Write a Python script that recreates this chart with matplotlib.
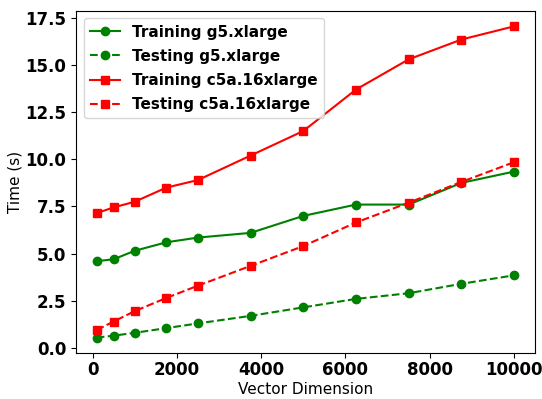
import numpy as np
import matplotlib.pyplot as plt

# Data
dims = [100, 500, 1000, 1750, 2500, 3750, 5000, 6250, 7500, 8750, 10000]
train_g5 = [4.6, 4.7, 5.15, 5.6, 5.85, 6.1, 7.0, 7.6, 7.6, 8.75, 9.35]
test_g5 = [0.55, 0.65, 0.8, 1.05, 1.3, 1.7, 2.15, 2.6, 2.9, 3.4, 3.85]
train_c5a = [7.15, 7.45, 7.75, 8.5, 8.9, 10.2, 11.5, 13.7, 15.3, 16.35, 17.05]
test_c5a = [0.95, 1.4, 1.95, 2.65, 3.3, 4.35, 5.4, 6.65, 7.7, 8.8, 9.85]

fig = plt.figure(figsize=(5.42, 3.99), dpi=100)
ax = fig.add_axes([0.140, 0.115, 0.847, 0.858])

ax.plot(dims, train_g5, '-o', color='green', label='Training g5.xlarge')
ax.plot(dims, test_g5, '--o', color='green', label='Testing g5.xlarge')
ax.plot(dims, train_c5a, '-s', color='red', label='Training c5a.16xlarge')
ax.plot(dims, test_c5a, '--s', color='red', label='Testing c5a.16xlarge')

ax.set_xlabel('Vector Dimension', fontsize=11, labelpad=2)
ax.set_ylabel('Time (s)', fontsize=11, labelpad=2)
ax.set_yticks(np.arange(0, 17.6, 2.5))
ax.tick_params(axis='x', pad=2.5)
for lbl in ax.get_xticklabels() + ax.get_yticklabels():
    lbl.set_fontweight('bold')
    lbl.set_fontsize(12)

ax.legend(loc='upper left', prop={'weight': 'bold', 'size': 11}, labelspacing=0.6)

plt.savefig('out.png', dpi=100)
